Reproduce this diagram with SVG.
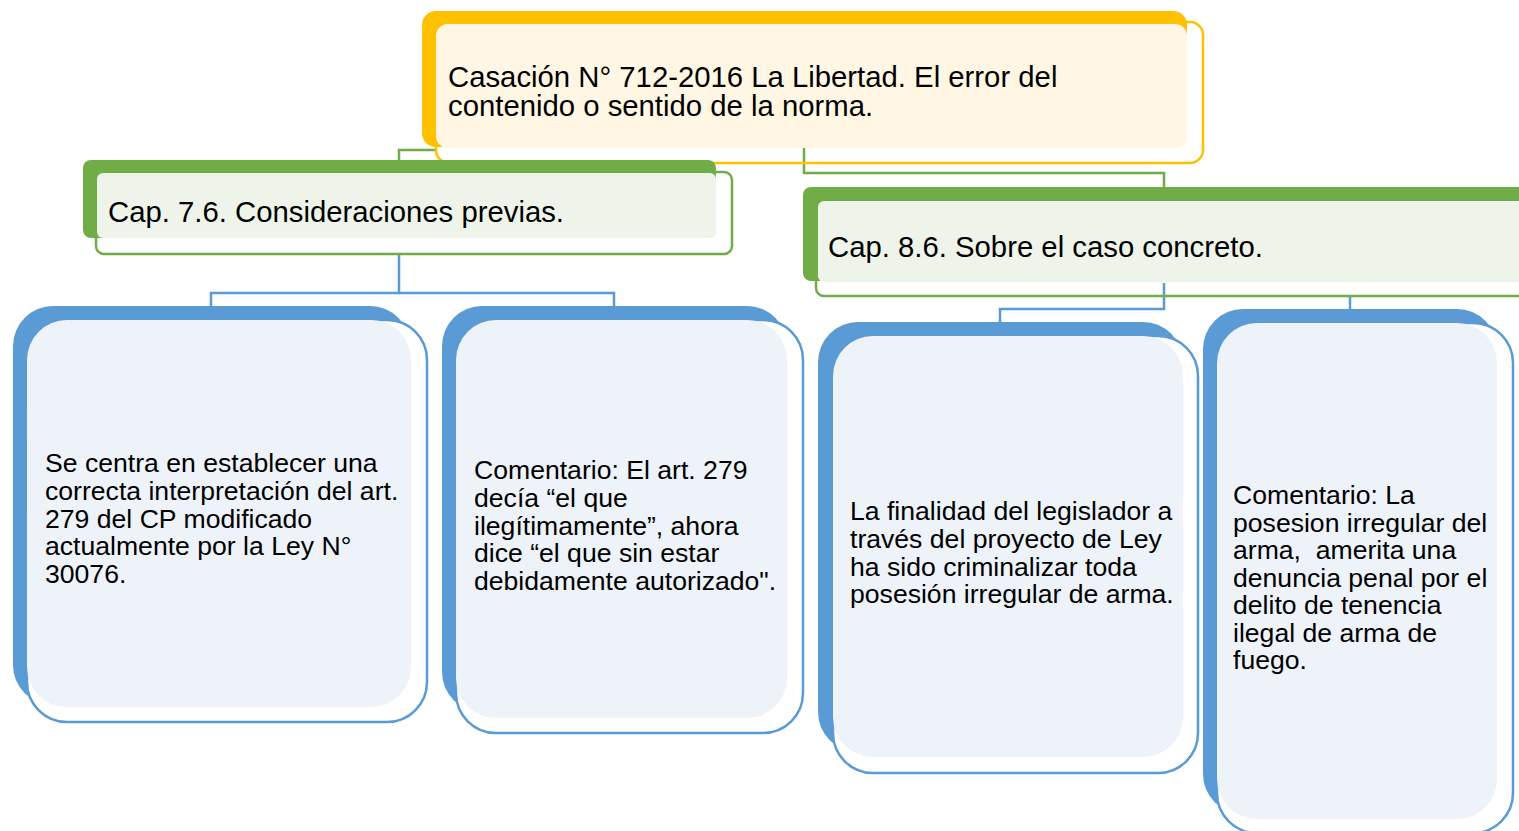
<svg xmlns="http://www.w3.org/2000/svg" width="1519" height="831" viewBox="0 0 1519 831">
<style>
.t{font-family:"Liberation Sans",Arial,sans-serif;fill:#000}
.big{font-size:29.3px}
.small{font-size:26.6px}
.gS{fill:#FFC000}.gO{fill:none;stroke:#FFC000;stroke-width:2.5}.gL{fill:#FFF7E4}
.nS{fill:#70AD47}.nO{fill:none;stroke:#70AD47;stroke-width:2.5}.nL{fill:#EFF4EA}
.bS{fill:#5B9BD5}.bO{fill:#fff;stroke:#5B9BD5;stroke-width:2.5}.bL{fill:#EEF3FA}
.cg{fill:none;stroke:#70AD47;stroke-width:2.5}
.cb{fill:none;stroke:#5B9BD5;stroke-width:2.5}
</style>
<rect width="1519" height="831" fill="#fff"/>
<g id="connectors">
<path class="cg" d="M436 150 H399 V162"/>
<path class="cg" d="M804 146 V173 H1164 V188"/>
<path class="cb" d="M399 254 V293 H211 V307"/>
<path class="cb" d="M399 293 H614 V307"/>
<path class="cb" d="M1164 283 V309 H1000 V323"/>
<path class="cb" d="M1350 296 V310"/>
</g>
<g id="top">
<rect class="gS" x="422" y="11" width="765" height="136" rx="14"/>
<rect class="gO" x="436" y="22" width="767" height="141" rx="13" fill="#fff"/>
<rect class="gL" x="436" y="24" width="751" height="124" rx="12"/>
<text class="t big" x="448" y="87">Casación N° 712-2016 La Libertad. El error del</text>
<text class="t big" x="448" y="116">contenido o sentido de la norma.</text>
</g>
<g id="cap76">
<rect class="nS" x="83" y="160" width="633" height="78" rx="8"/>
<rect class="nO" x="96" y="172" width="636" height="82" rx="8" fill="#fff"/>
<rect class="nL" x="97" y="173" width="619" height="65" rx="6"/>
<text class="t big" x="108" y="222">Cap. 7.6. Consideraciones previas.</text>
</g>
<g id="cap86">
<rect class="nS" x="803" y="187" width="740" height="94" rx="8"/>
<rect class="nO" x="816" y="200" width="740" height="96" rx="8" fill="#fff"/>
<rect class="nL" x="818" y="201" width="720" height="81" rx="6"/>
<text class="t big" x="828" y="257">Cap. 8.6. Sobre el caso concreto.</text>
</g>
<g id="leaf1">
<rect class="bS" x="13" y="306" width="397" height="399" rx="40"/>
<rect class="bO" x="27" y="320" width="400" height="402" rx="40"/>
<rect class="bL" x="27" y="320" width="384" height="387" rx="40"/>
<text class="t small" x="45" y="472">Se centra en establecer una</text>
<text class="t small" x="45" y="500">correcta interpretación del art.</text>
<text class="t small" x="45" y="527.5">279 del CP modificado</text>
<text class="t small" x="45" y="555">actualmente por la Ley N°</text>
<text class="t small" x="45" y="583">30076.</text>
</g>
<g id="leaf2">
<rect class="bS" x="442" y="306" width="345" height="406" rx="40"/>
<rect class="bO" x="456" y="320" width="347" height="413" rx="40"/>
<rect class="bL" x="456" y="320" width="331" height="398" rx="40"/>
<text class="t small" x="474" y="479">Comentario: El art. 279</text>
<text class="t small" x="474" y="507">decía “el que</text>
<text class="t small" x="474" y="534.5">ilegítimamente”, ahora</text>
<text class="t small" x="474" y="562">dice “el que sin estar</text>
<text class="t small" x="474" y="590">debidamente autorizado".</text>
</g>
<g id="leaf3">
<rect class="bS" x="818" y="322" width="365" height="430" rx="40"/>
<rect class="bO" x="833" y="336" width="365" height="437" rx="40"/>
<rect class="bL" x="833" y="336" width="350" height="421" rx="40"/>
<text class="t small" x="850" y="520">La finalidad del legislador a</text>
<text class="t small" x="850" y="548">través del proyecto de Ley</text>
<text class="t small" x="850" y="575.5">ha sido criminalizar toda</text>
<text class="t small" x="850" y="603">posesión irregular de arma.</text>
</g>
<g id="leaf4">
<rect class="bS" x="1203" y="309" width="294" height="505" rx="40"/>
<rect class="bO" x="1217" y="323" width="296" height="510" rx="40"/>
<rect class="bL" x="1217" y="323" width="280" height="496" rx="40"/>
<text class="t small" x="1233" y="504">Comentario: La</text>
<text class="t small" x="1233" y="531.5">posesion irregular del</text>
<text class="t small" x="1233" y="559">arma,&#160; amerita una</text>
<text class="t small" x="1233" y="586.5">denuncia penal por el</text>
<text class="t small" x="1233" y="614">delito de tenencia</text>
<text class="t small" x="1233" y="642">ilegal de arma de</text>
<text class="t small" x="1233" y="669">fuego.</text>
</g>
</svg>
